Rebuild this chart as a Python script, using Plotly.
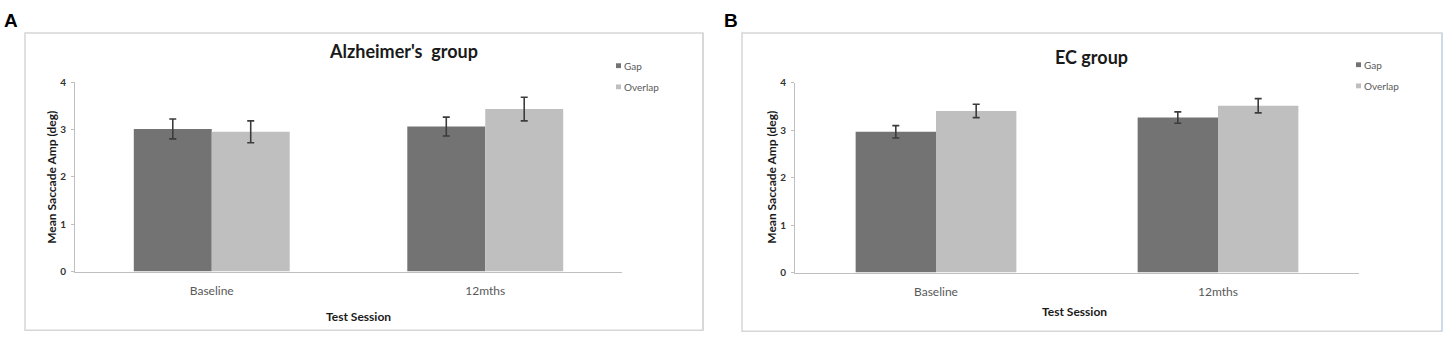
import plotly.graph_objects as go

W, H = 1446, 342

categories = ["Baseline", "12mths"]
series_names = ["Gap", "Overlap"]

alz_gap = [3.01, 3.06]
alz_gap_err = [0.21, 0.20]
alz_overlap = [2.95, 3.43]
alz_overlap_err = [0.23, 0.25]

ec_gap = [2.97, 3.27]
ec_gap_err = [0.13, 0.12]
ec_overlap = [3.41, 3.52]
ec_overlap_err = [0.14, 0.15]

y_ticks = [0, 1, 2, 3, 4]

panel_titles = ["Alzheimer's\u00a0 group", "EC group"]
panel_letters = ["A", "B"]
x_title = "Test Session"
y_title = "Mean Saccade Amp (deg)"

GAP_COLOR = "#737373"
OVL_COLOR = "#bfbfbf"
SERIES_COLORS = [GAP_COLOR, OVL_COLOR]
ERR_COLOR = "#3c3c3c"
AXIS_COLOR = "#bfbfbf"
BORDER_COLOR = "#d6d6d6"
TEXT_GRAY = "#595959"
FONT = "Lato, Open Sans, sans-serif"


def px(x):
    return x / W


def py(y):
    return 1 - y / H


fig = go.Figure()

panels = [
    dict(xa="x", ya="y", gap=alz_gap, gap_err=alz_gap_err,
         ovl=alz_overlap, ovl_err=alz_overlap_err,
         ax0=75, ax1=622, y4=78, y0=275, box=(25, 27, 703, 336),
         title_x=403, title_y=46, leg_x=616, leg_y=[61, 83], letter=(11, 14),
         xt=(358, 322), right_color=BORDER_COLOR),
    dict(xa="x2", ya="y2", gap=ec_gap, gap_err=ec_gap_err,
         ovl=ec_overlap, ovl_err=ec_overlap_err,
         ax0=795, ax1=1359, y4=79, y0=276, box=(742, 27, 1442, 337),
         title_x=1091, title_y=52, leg_x=1356, leg_y=[60, 82], letter=(731, 14),
         xt=(1074, 317), right_color="#c6d9ef"),
]

for i, p in enumerate(panels):
    for name, vals, errs, col in [
        (series_names[0], p["gap"], p["gap_err"], GAP_COLOR),
        (series_names[1], p["ovl"], p["ovl_err"], OVL_COLOR),
    ]:
        fig.add_trace(go.Bar(
            x=categories, y=vals, name=name, showlegend=False,
            marker=dict(color=col, line=dict(width=0)),
            error_y=dict(type="data", array=errs, color=ERR_COLOR,
                         thickness=1.6, width=3.5),
            xaxis=p["xa"], yaxis=p["ya"],
        ))

    sfx = "" if i == 0 else str(i + 1)
    fig.layout["xaxis" + sfx] = dict(
        domain=[px(p["ax0"]), px(p["ax1"])],
        anchor=p["ya"], showline=True, linecolor=AXIS_COLOR, linewidth=1,
        ticks="", showgrid=False, zeroline=False,
        tickfont=dict(family=FONT, size=12, color=TEXT_GRAY),
        ticklabelstandoff=8, fixedrange=True,
    )
    fig.layout["yaxis" + sfx] = dict(
        domain=[py(p["y0"]), py(p["y4"])],
        anchor=p["xa"], range=[0, 4], tickvals=y_ticks,
        showline=True, linecolor=AXIS_COLOR, linewidth=1,
        ticks="outside", ticklen=3, tickcolor=AXIS_COLOR,
        showgrid=False, zeroline=False,
        tickfont=dict(family=FONT, size=10, color="#333333", weight="bold"),
        ticklabelstandoff=3, fixedrange=True,
    )

    # panel border
    x0, y0b, x1, y1b = p["box"]
    fig.add_shape(type="rect", xref="paper", yref="paper",
                  x0=px(x0), x1=px(x1), y0=py(y1b), y1=py(y0b),
                  line=dict(color=BORDER_COLOR, width=1.5), layer="below")
    fig.add_shape(type="line", xref="paper", yref="paper",
                  x0=px(x1), x1=px(x1), y0=py(y1b), y1=py(y0b),
                  line=dict(color=p["right_color"], width=1.5), layer="below")

    # legend (small squares + labels)
    for k, name in enumerate(series_names):
        cy = p["leg_y"][k]
        fig.add_shape(type="rect", xref="paper", yref="paper",
                      x0=px(p["leg_x"]), x1=px(p["leg_x"] + 5),
                      y0=py(cy + 2.5), y1=py(cy - 2.5),
                      fillcolor=SERIES_COLORS[k], line=dict(width=0))
        fig.add_annotation(text=name, xref="paper", yref="paper",
                           x=px(p["leg_x"] + 6), y=py(cy),
                           xanchor="left", yanchor="middle", showarrow=False,
                           font=dict(family=FONT, size=10, color=TEXT_GRAY))

    fig.add_annotation(text=panel_titles[i], xref="paper", yref="paper",
                       x=px(p["title_x"]), y=py(p["title_y"]),
                       xanchor="center", yanchor="middle", showarrow=False,
                       font=dict(family=FONT, size=18, color="#1a1a1a", weight="bold"))
    fig.add_annotation(text=x_title, xref="paper", yref="paper",
                       x=px(p["xt"][0]), y=py(p["xt"][1]),
                       xanchor="center", yanchor="middle", showarrow=False,
                       font=dict(family=FONT, size=12, color="#1a1a1a", weight="bold"))
    fig.add_annotation(text=y_title, xref="paper", yref="paper",
                       x=px(p["ax0"] - 23), y=py((p["y0"] + p["y4"]) / 2),
                       xanchor="center", yanchor="middle", showarrow=False,
                       textangle=-90,
                       font=dict(family=FONT, size=12, color="#1a1a1a", weight="bold"))
    fig.add_annotation(text=panel_letters[i], xref="paper", yref="paper",
                       x=px(p["letter"][0]), y=py(p["letter"][1]),
                       xanchor="center", yanchor="middle", showarrow=False,
                       font=dict(family="Liberation Sans, Arial, sans-serif",
                                 size=19, color="#000000", weight="bold"))

fig.update_layout(
    width=W, height=H, autosize=False,
    margin=dict(l=0, r=0, t=0, b=0),
    paper_bgcolor="white", plot_bgcolor="white",
    barmode="group", bargap=0.43, bargroupgap=0,
    showlegend=False,
)

fig.write_html(
    "out.html",
    config={"displayModeBar": False},
    post_script="document.body.style.margin='0';document.body.style.overflow='hidden';",
)
